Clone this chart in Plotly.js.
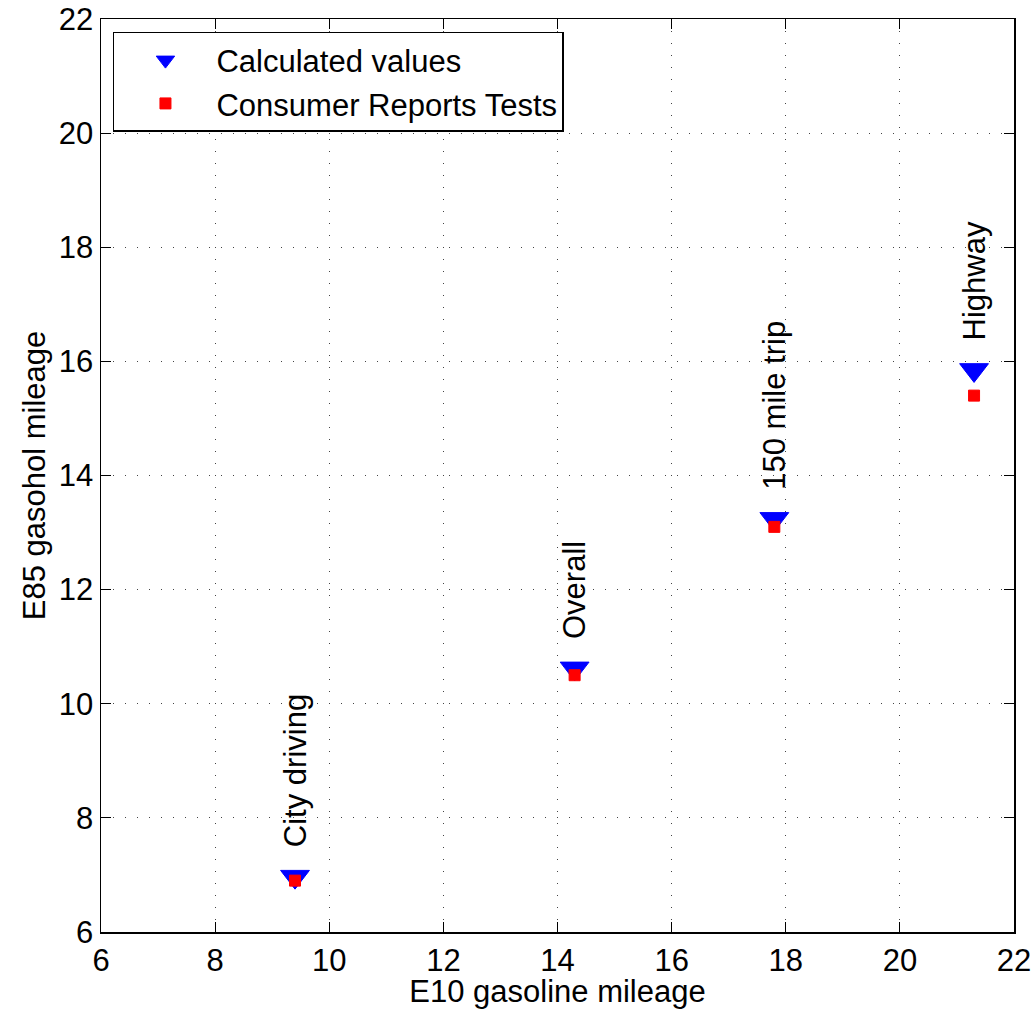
<!DOCTYPE html>
<html>
<head>
<meta charset="utf-8">
<script src="https://cdn.plot.ly/plotly-3.0.1.min.js"></script>
<style>html,body{margin:0;padding:0;background:#fff;}#chart{width:1033px;height:1009px;}</style>
</head>
<body>
<div id="chart"></div>
<script>
// Data
var categories = ["City driving", "Overall", "150 mile trip", "Highway"];
var e10Mileage = [9.4, 14.3, 17.8, 21.3];
var calculatedE85 = [6.97, 10.62, 13.24, 15.85];
var consumerReportsE85 = [6.9, 10.5, 13.1, 15.4];
var tickValues = [6, 8, 10, 12, 14, 16, 18, 20, 22];

var FONT = "Liberation Sans, Arial, Helvetica, sans-serif";
var FS = 31;

var traces = [
  {
    x: e10Mileage, y: calculatedE85, name: "Calculated values",
    type: "scatter", mode: "markers",
    marker: {symbol: "triangle-down", size: 25, color: "#0000ff", line: {color: "#0000ff", width: 1}}
  },
  {
    x: e10Mileage, y: consumerReportsE85, name: "Consumer Reports Tests",
    type: "scatter", mode: "markers",
    marker: {symbol: "square", size: 11, color: "#ff0000", line: {color: "#ff0000", width: 1}}
  }
];

var annotations = categories.map(function (c, i) {
  return {
    x: e10Mileage[i], y: calculatedE85[i], xref: "x", yref: "y",
    text: c, showarrow: false, textangle: -90,
    xanchor: "center", yanchor: "bottom", yshift: 27,
    font: {family: FONT, size: FS, color: "#000"}
  };
});

var axisCommon = {
  tickvals: tickValues,
  ticktext: tickValues.map(String),
  showline: true, linecolor: "#000", linewidth: 1.5, mirror: "ticks",
  ticks: "inside", ticklen: 10, tickwidth: 1, tickcolor: "#000",
  showgrid: true, gridcolor: "#444", gridwidth: 1, griddash: "1px,11px",
  zeroline: false,
  tickfont: {family: FONT, size: FS, color: "#000"}
};

var layout = {
  width: 1033, height: 1009,
  margin: {l: 101, r: 19, t: 19, b: 77},
  paper_bgcolor: "#fff", plot_bgcolor: "#fff",
  font: {family: FONT, size: FS, color: "#000"},
  showlegend: true,
  xaxis: Object.assign({}, axisCommon, {
    range: [6, 22],
    title: {text: "E10 gasoline mileage", font: {family: FONT, size: FS, color: "#000"}, standoff: 3}
  }),
  yaxis: Object.assign({}, axisCommon, {
    range: [6, 22],
    title: {text: "E85 gasohol mileage", font: {family: FONT, size: FS, color: "#000"}, standoff: 4}
  }),
  legend: {
    x: 0.0131, y: 0.9858, xanchor: "left", yanchor: "top",
    bgcolor: "#fff", bordercolor: "#000", borderwidth: 1.5,
    font: {family: FONT, size: FS, color: "#000"},
    itemwidth: 92
  },
  annotations: annotations
};

Plotly.newPlot("chart", traces, layout, {displayModeBar: false, staticPlot: true});
</script>
</body>
</html>
